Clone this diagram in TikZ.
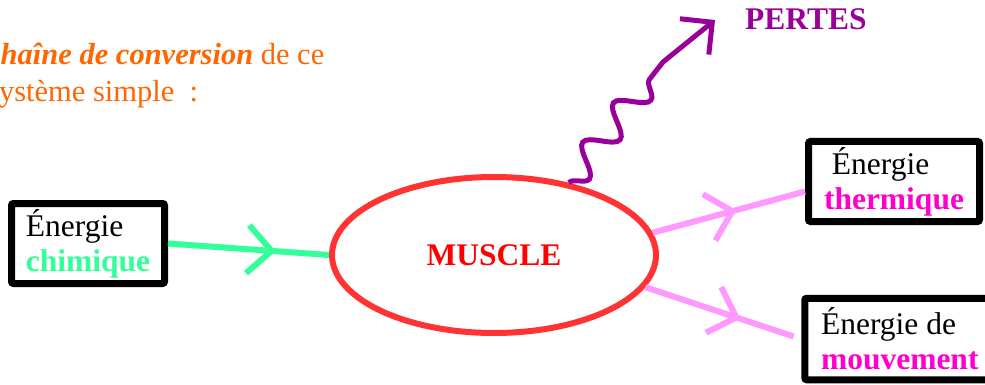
\documentclass[tikz,border=0pt]{standalone}
\usepackage{fontspec}
\setmainfont{Liberation Serif}
\usetikzlibrary{arrows.meta, shapes.geometric, decorations.pathmorphing, decorations.markings}

\definecolor{chimgreen}{HTML}{33FF99}
\definecolor{heatpink}{HTML}{FF99FF}
\definecolor{outmagenta}{HTML}{FF00CC}
\definecolor{musclered}{HTML}{FF3333}
\definecolor{losspurple}{HTML}{990099}
\definecolor{introorange}{HTML}{FF6600}

\begin{document}
\begin{tikzpicture}[
      x=1pt, y=-1pt,
      energy/.style={draw, line width=7pt, rounded corners=2pt, minimum height=80pt, align=left, inner sep=0pt, font=\fontsize{31.5}{35}\selectfont},
      main/.style={draw=musclered, ellipse, line width=6pt, minimum width=324pt, minimum height=156pt, inner sep=0pt, text=red, font=\fontsize{31.5}{35}\selectfont\bfseries},
      flow/.style={line width=6pt, postaction={decorate}, decoration={markings, mark=at position #1 with {\arrow{Straight Barb[length=24pt, width=48pt]}}}},
      loss/.style={draw=losspurple, line width=5pt, -{Straight Barb[length=23pt, width=46pt]}, decoration={snake, mirror, segment length=50pt, amplitude=14pt}},
      label/.style={inner sep=0pt, align=left, font=\fontsize{30.5}{37}\selectfont}
    ]
    \useasboundingbox (0,0) rectangle (985,385);

    \node[label, text=introorange, anchor=base west] (intro) at (-13,102) {\textbf{\textit{chaîne de conversion}} de ce\\système simple\ \ :};

    \node[main] (muscle) at (494,255) {MUSCLE};
    \node[energy, minimum width=153pt] (chim) at (88,243.5) {Énergie\\\textbf{\textcolor{chimgreen}{chimique}}};
    \node[energy, minimum width=171pt] (therm) at (894,181.5) {\hspace*{0.25em}Énergie\\\textbf{\textcolor{outmagenta}{thermique}}};
    \node[energy, minimum width=190pt, minimum height=81.5pt] (mouv) at (899.75,339) {Énergie de\\\textbf{\textcolor{outmagenta}{mouvement}}};
    \node[label, text=losspurple, font=\fontsize{31.5}{35}\selectfont\bfseries, anchor=base west] (pertes) at (745,30) {PERTES};
    \coordinate (lossbend) at (663,62);
    \coordinate (losstip) at (715,20);

    \draw[flow=0.67, chimgreen] (chim.east) -- (muscle.west);
    \draw[flow=0.55, heatpink] (muscle.8) -- ([yshift=-10pt]therm.west);
    \draw[flow=0.61, heatpink, shorten >=8pt] (muscle.-12) -- (mouv.west);

    \draw[loss] (muscle.44) decorate {-- (lossbend)} -- (losstip);

  \end{tikzpicture}
\end{document}
